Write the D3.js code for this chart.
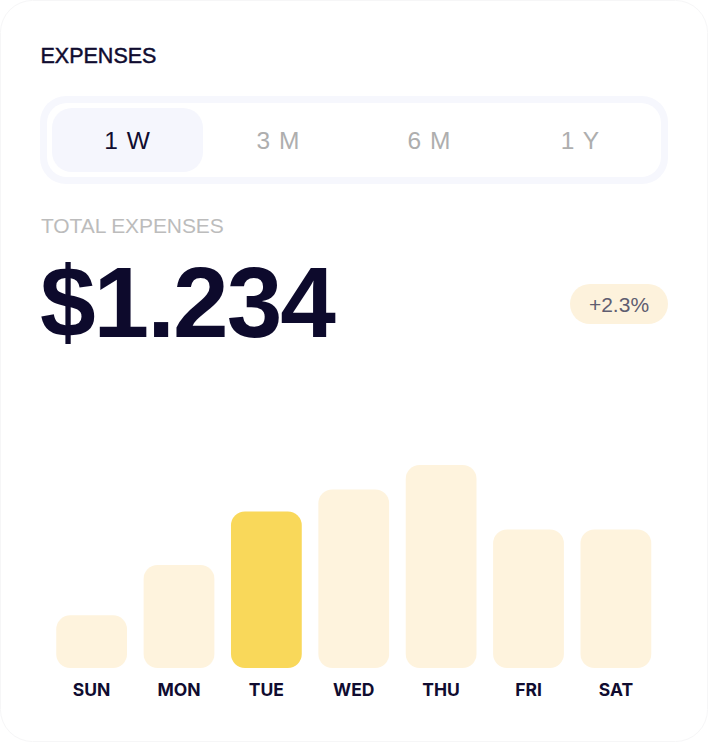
<!DOCTYPE html>
<html><head><meta charset="utf-8">
<script src="https://cdn.jsdelivr.net/npm/d3@7"></script>
<style>
html,body{margin:0;padding:0;background:#fff;}
svg{display:block;}
text{font-family:"Liberation Sans",Arial,sans-serif;}
</style></head>
<body>
<script>
const days = ["SUN","MON","TUE","WED","THU","FRI","SAT"];
const expenses = [67,131,199,227,258,176,176];
const highlightDay = "TUE";
const tabs = ["1 W","3 M","6 M","1 Y"];
const activeTab = "1 W";
const totalLabel = "$1.234";
const changeLabel = "+2.3%";

const W = 708, H = 742;
const svg = d3.select("body").append("svg").attr("width", W).attr("height", H);

// card
svg.append("rect").attr("x",0.5).attr("y",0.5).attr("width",W-1).attr("height",H-1)
  .attr("rx",32).attr("fill","#fff").attr("stroke","#f6f6f7").attr("stroke-width",1);

svg.append("text").attr("x",40.5).attr("y",63).text("EXPENSES")
  .attr("font-size",21.5).attr("fill","#100c30")
  .attr("stroke","#100c30").attr("stroke-width",0.45);

// tabs
svg.append("rect").attr("x",40).attr("y",96).attr("width",628).attr("height",88)
  .attr("rx",26).attr("fill","#f6f7fd");
svg.append("rect").attr("x",47).attr("y",103).attr("width",614).attr("height",74)
  .attr("rx",20).attr("fill","#fff");
const tabX = d3.scaleBand().domain(tabs).range([52,656]).paddingInner(0);
svg.append("rect").attr("x",tabX(activeTab)).attr("y",108).attr("width",151).attr("height",64)
  .attr("rx",20).attr("fill","#f5f6fd");
svg.selectAll(".tab").data(tabs).join("text")
  .attr("x",d=>tabX(d)+tabX.bandwidth()/2).attr("y",149)
  .attr("text-anchor","middle").attr("font-size",24.5).attr("letter-spacing",1)
  .attr("fill",d=>d===activeTab?"#100c30":"#aeaeae")
  .text(d=>d);

svg.append("text").attr("x",41).attr("y",233).text("TOTAL EXPENSES")
  .attr("font-size",21).attr("letter-spacing",-0.1).attr("fill","#bcbcbc");
svg.append("text").attr("x",40).attr("y",337).text(totalLabel)
  .attr("font-size",100).attr("font-weight",700).attr("fill","#0d0a2c")
  .attr("letter-spacing",-2);

// badge
svg.append("rect").attr("x",570).attr("y",284).attr("width",98).attr("height",40)
  .attr("rx",20).attr("fill","#fdf2dc");
svg.append("text").attr("x",619).attr("y",312).attr("text-anchor","middle")
  .attr("font-size",21).attr("fill","#5f5d70").text(changeLabel);

// bars
const x = d3.scaleBand().domain(days).range([47.5,660]).paddingInner(0.19).paddingOuter(0.1);
const y = d3.scaleLinear().domain([0,d3.max(expenses)]).range([668,465]);
const data = days.map((d,i)=>({day:d, v:expenses[i]}));
svg.selectAll(".bar").data(data).join("rect")
  .attr("x",d=>x(d.day)).attr("y",d=>y(d.v))
  .attr("width",x.bandwidth()).attr("height",d=>y(0)-y(d.v))
  .attr("rx",14)
  .attr("fill",d=>d.day===highlightDay?"#f9d85a":"#fef3dd");

const xAxis = d3.axisBottom(x).tickSize(0).tickPadding(0);
const ax = svg.append("g").attr("transform","translate(0,684)").call(xAxis);
ax.select(".domain").remove();
ax.selectAll("text").attr("font-size",17.5).attr("font-weight",700)
  .attr("fill","#100c30").attr("dy","0.71em")
  .style("font-family","Inter,'Liberation Sans',Arial,sans-serif");
</script>
</body></html>
